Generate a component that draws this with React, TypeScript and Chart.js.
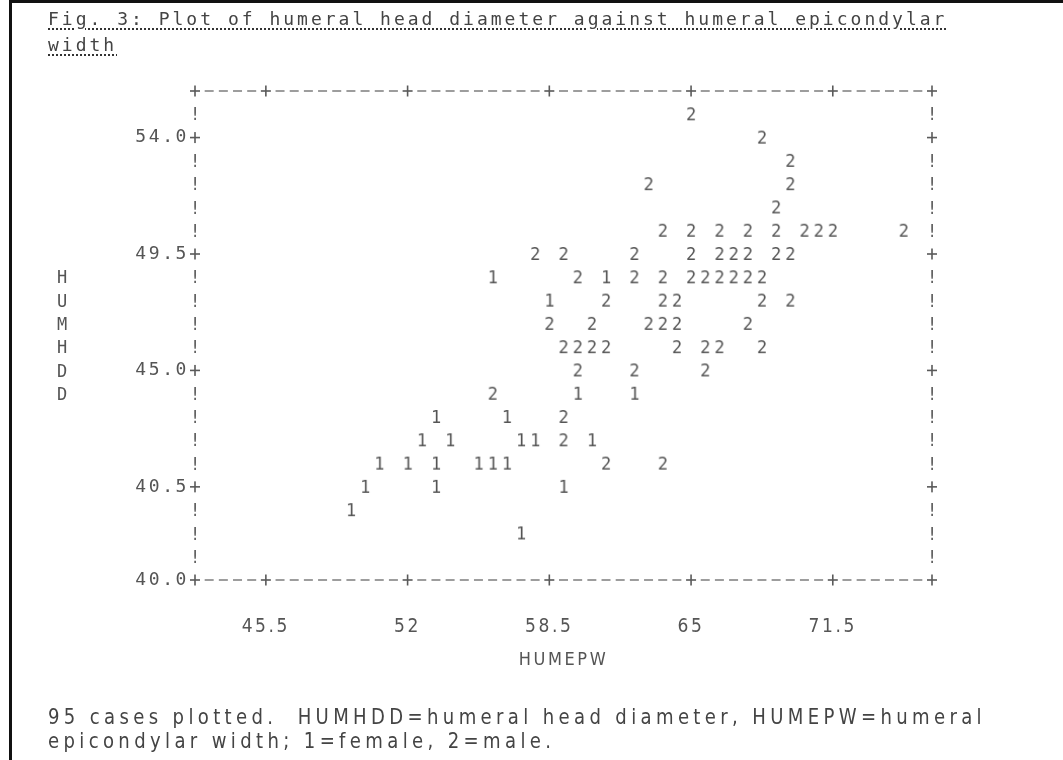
import React, { useEffect, useLayoutEffect, useRef } from 'react';
import { Chart, registerables } from 'chart.js';

Chart.register(...registerables);

// ---------- text ----------
const TITLE_LINES = ['Fig. 3: Plot of humeral head diameter against humeral epicondylar', 'width'];
const X_AXIS_TITLE = 'HUMEPW';
const Y_AXIS_TITLE = 'HUMHDD';
const CAPTION_LINES = [
  '95 cases plotted.  HUMHDD=humeral head diameter, HUMEPW=humeral',
  'epicondylar width; 1=female, 2=male.',
];

// ---------- axes ----------
const xTickValues = [45.5, 52, 58.5, 65, 71.5];
const xTickLabels = ['45.5', '52', '58.5', '65', '71.5'];
const yTickValues = [36.9, 40.5, 45.0, 49.5, 54.0];
const yTickLabels = ['40.0', '40.5', '45.0', '49.5', '54.0'];
const X_MIN = 42.25;
const X_MAX = 76.05;
const Y_MIN = 36.9;
const Y_MAX = 55.8;
const COL_STEP = 0.65; // one character column of the line-printer plot
const ROW_STEP = 0.9; // one printed row
const Y_TITLE_FIRST_ROW = 48.6;

// ---------- data (1 = female, 2 = male) ----------
const femaleX = [
  55.9, 61.1,
  58.5,
  59.8, 62.4,
  53.3, 56.55,
  52.65, 53.95, 57.2, 57.85, 60.45,
  50.7, 52.0, 53.3, 55.25, 55.9, 56.55,
  50.05, 53.3, 59.15,
  49.4,
  57.2,
];
const femaleY = [
  48.6, 48.6,
  47.7,
  44.1, 44.1,
  43.2, 43.2,
  42.3, 42.3, 42.3, 42.3, 42.3,
  41.4, 41.4, 41.4, 41.4, 41.4, 41.4,
  40.5, 40.5, 40.5,
  39.6,
  38.7,
];
const maleX = [
  65.0,
  68.25,
  69.55,
  63.05, 69.55,
  68.9,
  63.7, 65.0, 66.3, 67.6, 68.9, 70.2, 70.85, 71.5, 74.75,
  57.85, 59.15, 62.4, 65.0, 66.3, 66.95, 67.6, 68.9, 69.55,
  59.8, 62.4, 63.7, 65.0, 65.65, 66.3, 66.95, 67.6, 68.25,
  61.1, 63.7, 64.35, 68.25, 69.55,
  58.5, 60.45, 63.05, 63.7, 64.35, 67.6,
  59.15, 59.8, 60.45, 61.1, 64.35, 65.65, 66.3, 68.25,
  59.8, 62.4, 65.65,
  55.9,
  59.15,
  59.15,
  61.1, 63.7,
];
const maleY = [
  54.9,
  54.0,
  53.1,
  52.2, 52.2,
  51.3,
  50.4, 50.4, 50.4, 50.4, 50.4, 50.4, 50.4, 50.4, 50.4,
  49.5, 49.5, 49.5, 49.5, 49.5, 49.5, 49.5, 49.5, 49.5,
  48.6, 48.6, 48.6, 48.6, 48.6, 48.6, 48.6, 48.6, 48.6,
  47.7, 47.7, 47.7, 47.7, 47.7,
  46.8, 46.8, 46.8, 46.8, 46.8, 46.8,
  45.9, 45.9, 45.9, 45.9, 45.9, 45.9, 45.9, 45.9,
  45.0, 45.0, 45.0,
  44.1,
  43.2,
  42.3,
  41.4, 41.4,
];
const seriesSymbols = ['1', '2'];
const seriesNames = ['female', 'male'];

const INK = '#555555';
const MONO = '"DejaVu Sans Mono", "Liberation Mono", monospace';
const NARROW = '"Liberation Sans Narrow", "DejaVu Sans Condensed", "DejaVu Sans", sans-serif';
const CAPTION_SCALE = 0.86;
const CAPTION_WIDTH = 938;

function glyph(ch: string): HTMLCanvasElement {
  const c = document.createElement('canvas');
  c.width = 16;
  c.height = 22;
  const g = c.getContext('2d')!;
  g.font = '17px ' + MONO;
  g.fillStyle = INK;
  g.textAlign = 'center';
  g.textBaseline = 'alphabetic';
  g.fillText(ch, 8, 11 + 6.2);
  return c;
}

const asciiFrame = {
  id: 'asciiFrame',
  beforeDraw(chart: any) {
    (chart.ctx as any).letterSpacing = '2.6px';
  },
  afterDraw(chart: any) {
    const { ctx, chartArea: a } = chart;
    const xs = chart.scales.x;
    const ys = chart.scales.y;
    ctx.save();
    (ctx as any).letterSpacing = '0px';
    const near = (arr: number[], v: number) => arr.some((t) => Math.abs(t - v) < 1e-6);
    const xt = xs.ticks.map((t: any) => t.value);
    const yt = ys.ticks.map((t: any) => t.value);
    const plus = (px: number, py: number) => {
      ctx.fillStyle = '#5a5a5a';
      ctx.fillRect(px - 5, py - 0.8, 10, 1.6);
      ctx.fillRect(px - 0.8, py - 5.5, 1.6, 11);
    };
    const dash = (px: number, py: number) => {
      ctx.fillStyle = '#747474';
      ctx.fillRect(px - 4.5, py - 0.7, 9, 1.4);
    };
    const nCols = Math.round((xs.max - xs.min) / COL_STEP);
    for (let k = 0; k <= nCols; k++) {
      const v = xs.min + k * COL_STEP;
      const px = xs.getPixelForValue(v);
      for (const py of [a.top, a.bottom]) {
        if (k === 0 || k === nCols || near(xt, v)) plus(px, py);
        else dash(px, py);
      }
    }
    const nRows = Math.round((ys.max - ys.min) / ROW_STEP);
    ctx.font = '17px ' + MONO;
    ctx.textAlign = 'center';
    ctx.textBaseline = 'alphabetic';
    for (let r = 1; r < nRows; r++) {
      const v = ys.max - r * ROW_STEP;
      const py = ys.getPixelForValue(v);
      for (const px of [a.left, a.right]) {
        if (near(yt, v)) plus(px, py);
        else {
          ctx.fillStyle = '#5f5f5f';
          ctx.fillText('!', px, py + 6.2);
        }
      }
    }
    // stacked y-axis title
    ctx.fillStyle = INK;
    ctx.font = '17px ' + MONO;
    for (let i = 0; i < Y_AXIS_TITLE.length; i++) {
      const py = ys.getPixelForValue(Y_TITLE_FIRST_ROW - i * ROW_STEP);
      ctx.fillText(Y_AXIS_TITLE[i], 62, py + 6.2);
    }
    ctx.restore();
  },
};

export default function App() {
  const canvasRef = useRef<HTMLCanvasElement>(null);
  const capRef = useRef<HTMLDivElement>(null);

  useLayoutEffect(() => {
    const el = capRef.current;
    if (!el) return;
    const span = el.querySelector('span') as HTMLElement;
    el.style.letterSpacing = '0px';
    const natural = span.getBoundingClientRect().width / CAPTION_SCALE;
    const ls = (CAPTION_WIDTH / CAPTION_SCALE - natural) / CAPTION_LINES[0].length;
    el.style.letterSpacing = ls + 'px';
  }, []);

  useEffect(() => {
    const canvas = canvasRef.current!;
    const xs = [femaleX, maleX];
    const ysData = [femaleY, maleY];
    const chart = new Chart(canvas, {
      type: 'scatter',
      data: {
        datasets: seriesSymbols.map((sym, i) => ({
          label: seriesNames[i],
          data: xs[i].map((x, j) => ({ x, y: ysData[i][j] })),
          pointStyle: glyph(sym) as any,
          pointRadius: 5,
          pointHoverRadius: 5,
        })),
      },
      options: {
        animation: false,
        responsive: false,
        devicePixelRatio: 1,
        events: [],
        layout: { padding: { left: 0, right: 131, top: 91, bottom: 60 } },
        plugins: {
          legend: { display: false },
          tooltip: { enabled: false },
          title: { display: false },
        },
        scales: {
          x: {
            type: 'linear',
            position: 'bottom',
            min: X_MIN,
            max: X_MAX,
            afterBuildTicks: (s: any) => {
              s.ticks = xTickValues.map((v) => ({ value: v }));
            },
            afterFit: (s: any) => {
              s.height = 120;
            },
            grid: { display: false, drawTicks: false },
            border: { display: false },
            ticks: {
              autoSkip: false,
              maxRotation: 0,
              padding: 36,
              color: INK,
              font: { family: NARROW, size: 19 },
              callback: (_v: any, i: number) => xTickLabels[i],
            },
            title: {
              display: true,
              text: X_AXIS_TITLE,
              color: INK,
              font: { family: NARROW, size: 18 },
              padding: { top: 0, bottom: 28.6 },
            },
          },
          y: {
            type: 'linear',
            min: Y_MIN,
            max: Y_MAX,
            afterBuildTicks: (s: any) => {
              s.ticks = yTickValues.map((v) => ({ value: v }));
            },
            afterFit: (s: any) => {
              s.width = 195;
            },
            grid: { display: false, drawTicks: false },
            border: { display: false },
            ticks: {
              autoSkip: false,
              padding: 6,
              color: INK,
              font: { family: MONO, size: 18 },
              callback: (_v: any, i: number) => yTickLabels[i],
            },
          },
        },
      },
      plugins: [asciiFrame],
    } as any);
    return () => chart.destroy();
  }, []);

  return (
    <div
      style={{
        position: 'fixed',
        left: 0,
        top: 0,
        width: 1063,
        height: 760,
        background: '#ffffff',
        overflow: 'hidden',
      }}
    >
      <canvas
        ref={canvasRef}
        width={1063}
        height={760}
        style={{ position: 'absolute', left: 0, top: 0, width: 1063, height: 760 }}
      />
      <div style={{ position: 'absolute', left: 9, top: 0, width: 1054, height: 3, background: '#111' }} />
      <div style={{ position: 'absolute', left: 9, top: 0, width: 3, height: 760, background: '#111' }} />
      <div
        style={{
          position: 'absolute',
          left: 48,
          top: 6,
          fontFamily: MONO,
          fontSize: 18,
          letterSpacing: '3px',
          lineHeight: '26px',
          color: '#444',
          whiteSpace: 'pre',
        }}
      >
        {TITLE_LINES.map((t, i) => (
          <div key={i}>
            <span
              style={{
                textDecorationLine: 'underline',
                textDecorationStyle: 'dotted',
                textDecorationColor: '#333',
                textDecorationThickness: '2px',
                textUnderlineOffset: '3px',
              }}
            >
              {t}
            </span>
          </div>
        ))}
      </div>
      <div
        ref={capRef}
        style={{
          position: 'absolute',
          left: 48,
          top: 705,
          fontFamily: '"DejaVu Sans", sans-serif',
          fontSize: 21,
          lineHeight: '24px',
          color: '#444',
          whiteSpace: 'pre',
          transform: `scaleX(${CAPTION_SCALE})`,
          transformOrigin: '0 0',
        }}
      >
        {CAPTION_LINES.map((t, i) => (
          <div key={i}>
            <span>{t}</span>
          </div>
        ))}
      </div>
    </div>
  );
}
